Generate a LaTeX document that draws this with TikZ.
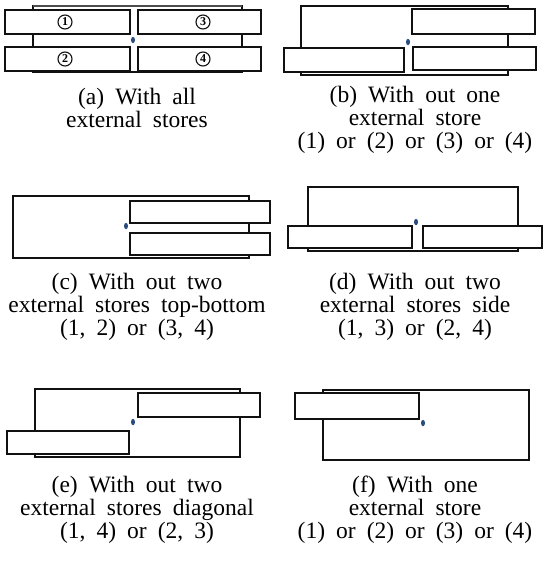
\documentclass[tikz,border=0pt]{standalone}
\usepackage{fontspec}
\setmainfont{Liberation Serif}
\usetikzlibrary{shapes.geometric}
\definecolor{Edge}{HTML}{111111}
\definecolor{Pivot}{HTML}{2B4C7E}
\newcommand\capstyle{\fontsize{23.5}{23}\selectfont\spaceskip=0.47em plus 0.1em\relax}
\tikzset{core/.style={draw=Edge,line width=1.3pt},store/.style={draw=Edge,fill=white,line width=1.4pt},pivot/.style={ellipse,fill=Pivot,minimum width=4pt,minimum height=6.5pt,inner sep=0pt},num/.style={circle,draw=Edge,line width=1.1pt,minimum size=14pt,inner sep=0pt,font=\fontsize{12}{12}\selectfont\bfseries},caption/.style={align=center,font=\capstyle,inner sep=0pt}}

\begin{document}
\begin{tikzpicture}[x=1pt,y=-1pt]
      \useasboundingbox (0,0) rectangle (544,562);
      % (a) all stores
      \draw[core](33,6) rectangle (242,72);
      \draw[Edge!75,line width=2.4pt](33,6)--(242,6);
      \draw[store](5,10) rectangle (130,34);\draw[store](138,10) rectangle (261,34);
      \draw[store](5,47) rectangle (130,71);\draw[store](138,47) rectangle (261,71);
      \node[num](n1) at (65,22){1};\node[num](n3) at (203,22){3};
      \node[num](n2) at (65,59){2};\node[num](n4) at (203,59){4};
      \node[pivot](pa) at (133,40){};
      \node[caption](capA) at (137,108){(a) With all\\external stores};
      % (b) one store missing
      \draw[core](301,6) rectangle (508,75);
      \draw[store](412,9) rectangle (535,34);
      \draw[store](284,48) rectangle (404,72);\draw[store](413,47) rectangle (536,70);
      \node[pivot](pb) at (408,42){};
      \node[caption](capB) at (415,120){(b) With out one\\external store\\(1) or (2) or (3) or (4)};
      % (c) top-bottom
      \draw[core](13,196) rectangle (249,258);
      \draw[store](130,201) rectangle (270,223);\draw[store](130,233) rectangle (270,255);
      \node[pivot](pc) at (126,226){};
      \node[caption](capC) at (137,307){(c) With out two\\external stores top-bottom\\(1, 2) or (3, 4)};
      % (d) side
      \draw[core](308,187) rectangle (518,251);
      \draw[store](288,226) rectangle (412,248);\draw[store](423,226) rectangle (542,248);
      \node[pivot](pd) at (416,222){};
      \node[caption](capD) at (415,307){(d) With out two\\external stores side\\(1, 3) or (2, 4)};
      % (e) diagonal
      \draw[core](35,389) rectangle (240,457);
      \draw[store](138,393) rectangle (260,417);\draw[store](7,431) rectangle (129,454);
      \node[pivot](pe) at (133,422){};
      \node[caption](capE) at (137,510){(e) With out two\\external stores diagonal\\(1, 4) or (2, 3)};
      % (f) one store
      \draw[core](323,390) rectangle (529,460);
      \draw[store](295,393) rectangle (419,419);
      \node[pivot](pf) at (423,423){};
      \node[caption](capF) at (415,510){(f) With one\\external store\\(1) or (2) or (3) or (4)};
    \end{tikzpicture}
\end{document}
